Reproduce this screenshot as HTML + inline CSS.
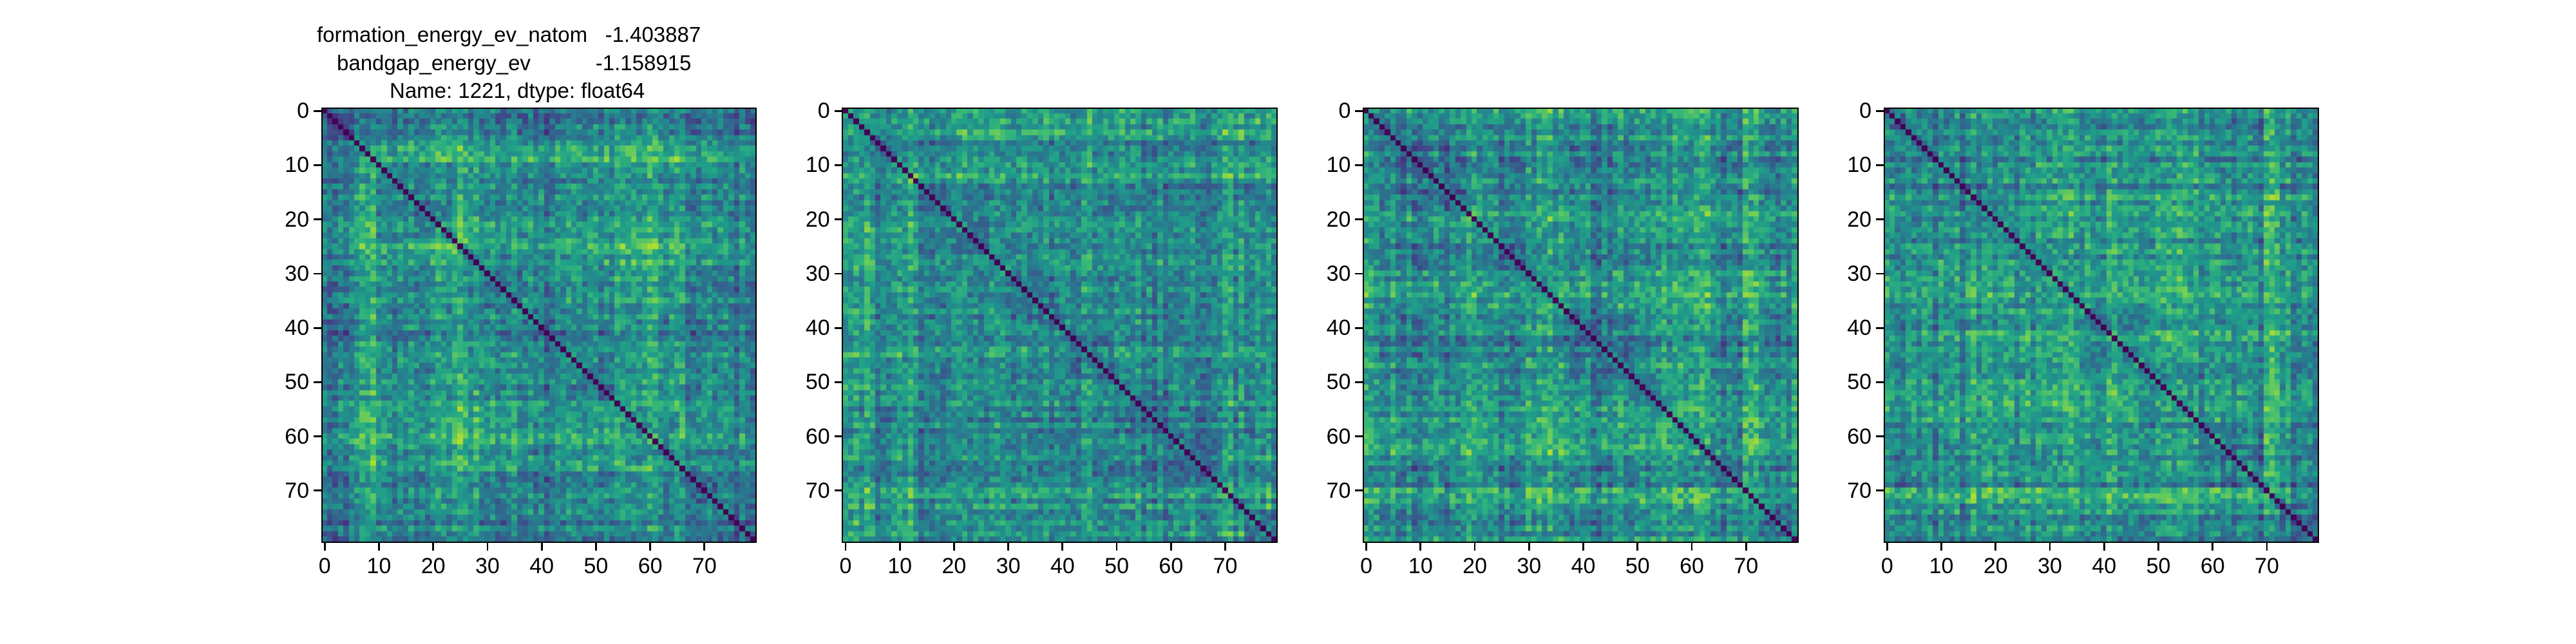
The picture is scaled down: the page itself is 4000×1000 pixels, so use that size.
<!DOCTYPE html>
<html><head><meta charset="utf-8"><style>
html,body{margin:0;padding:0;background:#fff;}
#fig{position:relative;width:4000px;height:1000px;overflow:hidden;font-family:"Liberation Sans","DejaVu Sans",sans-serif;}
.tl{position:absolute;font-size:33px;white-space:pre;line-height:33px;color:#000;}
canvas{position:absolute;}
.tick{position:absolute;font-size:34px;color:#000;line-height:34px;}
.frame{position:absolute;border:2.8px solid #000;box-sizing:border-box;}
</style></head><body>
<div id="fig">
<div>
<div class="tl" style="left:492px;top:37px">formation_energy_ev_natom   -1.403887</div>
<div class="tl" style="left:523px;top:81px">bandgap_energy_ev           -1.158915</div>
<div class="tl" style="left:605px;top:124px">Name: 1221, dtype: float64</div>
</div>
</div>
<script>
// ---- data ----
const N = 80;
const tickValues = [0,10,20,30,40,50,60,70];
const blocks1 = [0,10,25,37,45,55,66,73,80];
const blocks2 = [0,13,20,30,40,50,60,70,74,80];
const blocks3 = [0,7,20,30,37,50,58,70,80];
const blocks4 = [0,5,25,37,47,59,70,80];
const spread1 = [.4,.4,.4,.4,.4,.4,.45,.7,.72,.7, .4,.4,.4,.4,.4,.4,.45,.45,.45,.45, .6,.6,.6,.62,.6,.7,.72,.7,.7,.68, .6,.6,.62,.62,.6,.6,.6,.4,.4,.4, .4,.4,.38,.4,.4,.45,.45,.45,.45,.45, .45,.55,.55,.55,.55,.75,.78,.75,.75,.75, .78,.75,.72,.55,.55,.55,.55,.5,.52,.5, .5,.5,.5,.35,.35,.35,.35,.35,.35,.35];
const spread2 = [.9,.5,.8,.4,.7,.85,.4,.6,.5,.75, .9,.5,.7,.45,.45,.45,.45,.45,.45,.45, .6,.6,.6,.6,.6,.45,.45,.45,.45,.45, .45,.45,.5,.5,.45,.45,.42,.42,.42,.42, .42,.42,.45,.45,.5,.55,.55,.55,.55,.55, .55,.58,.58,.55,.55,.45,.45,.45,.45,.45, .5,.5,.45,.45,.45,.45,.45,.45,.45,.45, .55,.55,.55,.55,.6,.6,.6,.6,.6,.6];
const spread3 = [.55,.55,.55,.55,.55,.55,.55,.45,.45,.45, .45,.45,.45,.45,.45,.45,.45,.45,.7,.72, .7,.5,.5,.5,.5,.5,.5,.5,.5,.5, .62,.62,.65,.68,.7,.66,.62,.6,.6,.6, .6,.45,.45,.45,.45,.45,.45,.5,.5,.5, .6,.6,.62,.65,.65,.65,.62,.62,.6,.6, .6,.6,.6,.6,.6,.6,.45,.45,.45,.45, .65,.65,.66,.65,.65,.45,.45,.45,.45,.45];
const spread4 = [.55,.55,.55,.45,.45,.45,.45,.45,.45,.45, .45,.45,.45,.45,.45,.6,.6,.62,.62,.6, .6,.45,.45,.45,.45,.45,.5,.5,.5,.5, .5,.5,.5,.5,.65,.66,.66,.65,.45,.45, .6,.6,.62,.62,.6,.6,.6,.45,.45,.45, .6,.6,.62,.62,.62,.6,.6,.6,.6,.6, .6,.6,.6,.45,.45,.45,.45,.45,.45,.45, .7,.7,.72,.45,.45,.45,.45,.45,.45,.45];
const panelLefts = [500, 1308.7, 2117.4, 2926.1];
const axTop = 168, axSize = 673.9;

const viridis = [[68,1,84],[72,40,120],[62,74,137],[49,104,142],[38,130,142],[31,158,137],[53,183,121],[109,205,89],[180,222,44],[253,231,37]];
function cmap(t){t=Math.max(0,Math.min(1,t));const p=t*(viridis.length-1);const i=Math.min(viridis.length-2,Math.floor(p));const f=p-i;const a=viridis[i],b=viridis[i+1];return `rgb(${Math.round(a[0]+(b[0]-a[0])*f)},${Math.round(a[1]+(b[1]-a[1])*f)},${Math.round(a[2]+(b[2]-a[2])*f)})`;}
function hash(a,b,seed){let h=(a*374761393+b*668265263+seed*2147483)|0;h=(h^(h>>>13))*1274126177|0;h=h^(h>>>16);return ((h>>>0)%1000)/1000-0.5;}
function tex(i,j,seed){return hash(Math.min(i,j),Math.max(i,j),seed);}
function blockOf(blocks,i){for(let k=0;k<blocks.length-1;k++){if(i>=blocks[k]&&i<blocks[k+1])return k;}return -1;}
function value(blocks,spread,i,j,seed){
  if(i===j) return 0;
  const s=Math.sqrt(spread[i]*spread[j]);
  const same=blockOf(blocks,i)===blockOf(blocks,j);
  const rowc=hash(i,999,seed)+hash(j,999,seed);
  return (same?0.1+0.65*s:0.06+0.85*s)+0.3*tex(i,j,seed)+0.18*rowc;
}
const fig=document.getElementById('fig');
const panels=[[blocks1,spread1],[blocks2,spread2],[blocks3,spread3],[blocks4,spread4]];
function xScale(left,v){return left+(v+0.5)*axSize/N;}
function yScale(v){return axTop+(v+0.5)*axSize/N;}
panels.forEach((p,k)=>{
  const left=panelLefts[k];
  const cv=document.createElement('canvas');
  cv.width=Math.round(axSize);cv.height=Math.round(axSize);
  cv.style.left=left+'px';cv.style.top=axTop+'px';
  
  
  fig.appendChild(cv);
  const ctx=cv.getContext('2d');
  const cw=axSize/N;
  for(let i=0;i<N;i++)for(let j=0;j<N;j++){
    ctx.fillStyle=cmap(value(p[0],p[1],i,j,k+1));
    const x0=Math.floor(j*cw),x1=Math.ceil((j+1)*cw),y0=Math.floor(i*cw),y1=Math.ceil((i+1)*cw);
    ctx.fillRect(x0,y0,x1-x0,y1-y0);
  }
  const fr=document.createElement('div');fr.className='frame';
  fr.style.left=(left-1.4)+'px';fr.style.top=(axTop-1.4)+'px';fr.style.width=(axSize+2.8)+'px';fr.style.height=(axSize+2.8)+'px';
  
  
  fig.appendChild(fr);
  tickValues.forEach(t=>{
    const x=xScale(left,t);
    const tm=document.createElement('div');
    tm.style.cssText=`position:absolute;left:${x-1.4}px;top:${axTop+axSize+1}px;width:2.8px;height:12px;background:#000`;
    
    
    fig.appendChild(tm);
    const tl=document.createElement('div');tl.className='tick';tl.textContent=t;
    tl.style.left=(x-40)+'px';tl.style.width='80px';tl.style.textAlign='center';tl.style.top=(axTop+axSize+20)+'px';
    
    
    fig.appendChild(tl);
    const y=yScale(t);
    const ym=document.createElement('div');
    ym.style.cssText=`position:absolute;left:${left-13}px;top:${y-1.4}px;width:12px;height:2.8px;background:#000`;
    
    
    fig.appendChild(ym);
    const yl=document.createElement('div');yl.className='tick';yl.textContent=t;
    yl.style.left=(left-120)+'px';yl.style.width='100px';yl.style.textAlign='right';yl.style.top=(y-17)+'px';
    
    
    fig.appendChild(yl);
  });
});
</script>
</body></html>
